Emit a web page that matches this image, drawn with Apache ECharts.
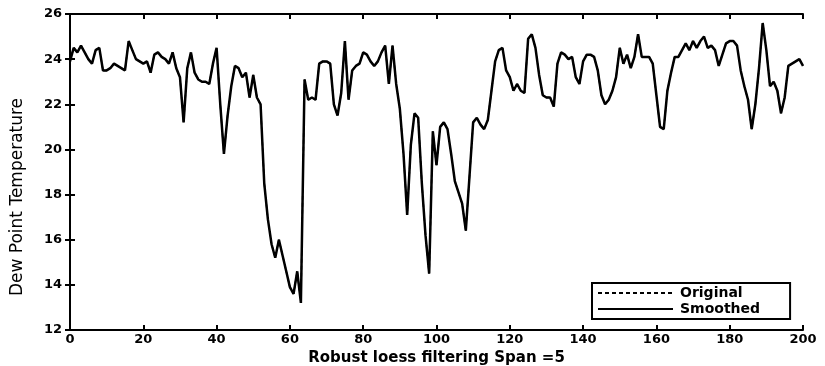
<!DOCTYPE html>
<html>
<head>
<meta charset="utf-8">
<script src="https://cdn.jsdelivr.net/npm/echarts@6/dist/echarts.min.js"></script>
<style>
  html, body { margin: 0; padding: 0; background: #fff; }
  #EChart { width: 825px; height: 366px; }
</style>
</head>
<body>
<div id="EChart"></div>
<script>
// dew point readings, one per sample index 0..200
const dewPoint = [
  23.9, 24.5, 24.3, 24.6, 24.3, 24.0, 23.8, 24.4, 24.5, 23.5,
  23.5, 23.6, 23.8, 23.7, 23.6, 23.5, 24.8, 24.4, 24.0, 23.9,
  23.8, 23.9, 23.4, 24.2, 24.3, 24.1, 24.0, 23.8, 24.3, 23.6,
  23.2, 21.2, 23.6, 24.3, 23.4, 23.1, 23.0, 23.0, 22.9, 23.8,
  24.5, 22.0, 19.8, 21.5, 22.8, 23.7, 23.6, 23.2, 23.4, 22.3,
  23.3, 22.3, 22.0, 18.5, 16.9, 15.8, 15.2, 16.0, 15.3, 14.6,
  13.9, 13.6, 14.6, 13.2, 23.1, 22.2, 22.3, 22.2, 23.8, 23.9,
  23.9, 23.8, 22.0, 21.5, 22.5, 24.8, 22.2, 23.5, 23.7, 23.8,
  24.3, 24.2, 23.9, 23.7, 23.9, 24.3, 24.6, 22.9, 24.6, 22.9,
  21.8, 19.8, 17.1, 20.2, 21.6, 21.4, 18.5, 16.2, 14.5, 20.8,
  19.3, 21.0, 21.2, 20.9, 19.8, 18.6, 18.1, 17.6, 16.4, 18.8,
  21.2, 21.4, 21.1, 20.9, 21.3, 22.6, 23.9, 24.4, 24.5, 23.5,
  23.2, 22.6, 22.9, 22.6, 22.5, 24.9, 25.1, 24.5, 23.3, 22.4,
  22.3, 22.3, 21.9, 23.8, 24.3, 24.2, 24.0, 24.1, 23.2, 22.9,
  23.9, 24.2, 24.2, 24.1, 23.5, 22.4, 22.0, 22.2, 22.6, 23.2,
  24.5, 23.8, 24.2, 23.6, 24.1, 25.1, 24.1, 24.1, 24.1, 23.8,
  22.4, 21.0, 20.9, 22.6, 23.4, 24.1, 24.1, 24.4, 24.7, 24.4,
  24.8, 24.5, 24.8, 25.0, 24.5, 24.6, 24.4, 23.7, 24.2, 24.7,
  24.8, 24.8, 24.6, 23.5, 22.8, 22.2, 20.9, 22.0, 23.6, 25.6,
  24.4, 22.8, 23.0, 22.6, 21.6, 22.3, 23.7, 23.8, 23.9, 24.0,
  23.7
];
const xTicks = [0, 20, 40, 60, 80, 100, 120, 140, 160, 180, 200];
const yTicks = [12, 14, 16, 18, 20, 22, 24, 26];
const seriesNames = ['Original', 'Smoothed'];

const points = dewPoint.map((v, i) => [i, v]);
const font = '"DejaVu Sans", Verdana, sans-serif';

const boxAxis = {
  axisLine: { show: true, lineStyle: { color: '#000', width: 2 } },
  axisTick: { show: true, inside: true, length: 5, lineStyle: { color: '#000', width: 2 } },
  splitLine: { show: false }
};

let EChart = echarts.init(document.getElementById('EChart'));
EChart.setOption({
  animation: false,
  backgroundColor: '#fff',
  grid: { left: 70, right: 22, top: 14, bottom: 36, containLabel: false, outerBoundsMode: 'none' },
  xAxis: [{
    type: 'value',
    min: xTicks[0], max: xTicks[xTicks.length - 1], interval: 20,
    name: 'Robust loess filtering Span =5',
    nameLocation: 'middle', nameGap: 21,
    nameTextStyle: { color: '#000', fontFamily: font, fontWeight: 'bold', fontSize: 15 },
    axisLabel: { color: '#000', fontFamily: font, fontWeight: 'bold', fontSize: 13, margin: 3 },
    ...boxAxis
  }, {
    type: 'value', position: 'top',
    min: xTicks[0], max: xTicks[xTicks.length - 1], interval: 20,
    axisLabel: { show: false },
    ...boxAxis
  }],
  yAxis: [{
    type: 'value',
    min: yTicks[0], max: yTicks[yTicks.length - 1], interval: 2,
    axisLabel: { color: '#000', fontFamily: font, fontWeight: 'bold', fontSize: 13, margin: 8 },
    ...boxAxis
  }, {
    type: 'value', position: 'right',
    min: yTicks[0], max: yTicks[yTicks.length - 1], interval: 2,
    axisLabel: { show: false },
    ...boxAxis
  }],
  graphic: [{
    type: 'text',
    x: 18, y: 197,
    rotation: Math.PI / 2,
    style: {
      text: 'Dew Point Temperature',
      fill: '#000',
      font: '17px "DejaVu Sans", sans-serif',
      align: 'center',
      verticalAlign: 'middle'
    }
  }],
  legend: {
    orient: 'vertical',
    left: 592, top: 283,
    padding: [3, 30, 3, 5],
    itemGap: 2,
    itemWidth: 75,
    itemHeight: 12,
    borderColor: '#000', borderWidth: 2,
    backgroundColor: '#fff',
    itemStyle: { opacity: 0 },
    textStyle: { color: '#000', fontFamily: font, fontWeight: 'bold', fontSize: 14, padding: [0, 0, 0, 2] },
    data: seriesNames
  },
  series: [{
    name: seriesNames[0],
    type: 'line',
    data: points,
    symbol: 'none',
    lineStyle: { color: '#000', width: 1.5, type: [4, 3] },
    itemStyle: { color: '#000' }
  }, {
    name: seriesNames[1],
    type: 'line',
    data: points,
    symbol: 'none',
    lineStyle: { color: '#000', width: 2.5 },
    itemStyle: { color: '#000' }
  }]
});
</script>
</body>
</html>
